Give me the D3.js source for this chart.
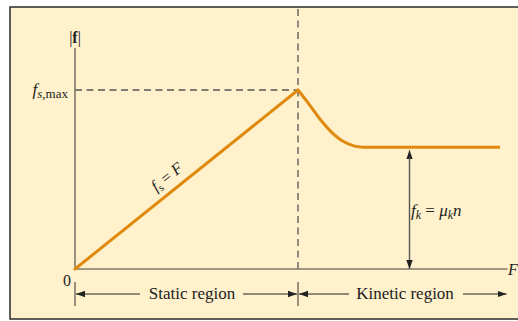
<!DOCTYPE html>
<html><head><meta charset="utf-8">
<script src="https://cdn.jsdelivr.net/npm/d3@7"></script>
<style>
html,body{margin:0;padding:0;background:#fff;}
svg{display:block;}
text{font-family:"Liberation Serif","Times New Roman",serif;fill:#222;}
</style></head>
<body>
<svg id="c" width="518" height="321"></svg>
<script>
// ---- data ----
const staticF = [0, 1];          // applied force (in units of F at f_s,max)
const staticFriction = [0, 1];   // friction magnitude (units of f_s,max)
const kineticF = [1, 1.05, 1.10, 1.15, 1.20, 1.25, 1.30];
const kineticFriction = [1, 0.92, 0.835, 0.765, 0.715, 0.688, 0.68];
const plateauF = [1.30, 1.906];
const plateauFriction = [0.68, 0.68];
const regionLabels = ["Static region", "Kinetic region"];
const fkAt = 1.5;                // where the f_k bracket arrow is drawn
const xAxisMax = 1.94, yAxisMax = 1.235;

const svg = d3.select("#c");
const x = d3.scaleLinear().domain([0, 1]).range([75, 298]);
const y = d3.scaleLinear().domain([0, 1]).range([269, 90]);

const orange = "#df8a0e", axisCol = "#81786b";

// frame
svg.append("rect").attr("x", 10).attr("y", 7).attr("width", 520).attr("height", 312)
  .attr("fill", "#fef1cb").attr("stroke", "#2a2a2a").attr("stroke-width", 1.5);

// markers
const defs = svg.append("defs");
const m = defs.append("marker").attr("id", "ah").attr("viewBox", "0 -5 10 10")
  .attr("refX", 10).attr("refY", 0).attr("markerWidth", 9).attr("markerHeight", 9)
  .attr("markerUnits", "userSpaceOnUse").attr("orient", "auto");
m.append("path").attr("d", "M0,-3.6L10,0L0,3.6Z").attr("fill", "#222");

// dashed guides
svg.append("line").attr("x1", x(0)).attr("x2", x(1)).attr("y1", y(1)).attr("y2", y(1))
  .attr("stroke", "#555").attr("stroke-width", 1.3).attr("stroke-dasharray", "7,4.5");
svg.append("line").attr("x1", x(1)).attr("x2", x(1)).attr("y1", 9).attr("y2", y(0))
  .attr("stroke", "#555").attr("stroke-width", 1.3).attr("stroke-dasharray", "7,4.5");

// axes
svg.append("line").attr("x1", x(0)).attr("x2", x(0)).attr("y1", y(yAxisMax)).attr("y2", y(0))
  .attr("stroke", axisCol).attr("stroke-width", 1.6);
svg.append("line").attr("x1", x(0)).attr("x2", x(xAxisMax)).attr("y1", y(0)).attr("y2", y(0))
  .attr("stroke", axisCol).attr("stroke-width", 1.6);

// curves
const line = d3.line().x(d => x(d[0])).y(d => y(d[1]));
const pts = d3.zip(staticF, staticFriction);
svg.append("path").attr("d", line(pts))
  .attr("fill", "none").attr("stroke", orange).attr("stroke-width", 3).attr("stroke-linecap", "round");
svg.append("path").attr("d", d3.line().x(d => x(d[0])).y(d => y(d[1])).curve(d3.curveCatmullRom.alpha(0.5))(d3.zip(kineticF, kineticFriction)))
  .attr("fill", "none").attr("stroke", orange).attr("stroke-width", 3).attr("stroke-linejoin", "round").attr("stroke-linecap", "round");
svg.append("path").attr("d", line(d3.zip(plateauF, plateauFriction)))
  .attr("fill", "none").attr("stroke", orange).attr("stroke-width", 3);

// f_k double arrow
const fkY = plateauFriction[0];
svg.append("line").attr("x1", x(fkAt)).attr("x2", x(fkAt)).attr("y1", y(0) - 1).attr("y2", y(fkY) + 3)
  .attr("stroke", "#555").attr("stroke-width", 1.2).attr("marker-end", "url(#ah)");
svg.append("line").attr("x1", x(fkAt)).attr("x2", x(fkAt)).attr("y1", y(fkY) + 10).attr("y2", y(0))
  .attr("stroke", "#555").attr("stroke-width", 1.2).attr("marker-end", "url(#ah)");

// labels
const t1 = svg.append("text").attr("x", 75).attr("y", 43).attr("text-anchor", "middle").attr("font-size", 16);
t1.append("tspan").text("|");
t1.append("tspan").attr("font-weight", "bold").text("f");
t1.append("tspan").text("|");

const t2 = svg.append("text").attr("x", 68).attr("y", 95).attr("text-anchor", "end").attr("font-size", 17);
t2.append("tspan").attr("font-style", "italic").text("f");
t2.append("tspan").attr("font-style", "italic").attr("font-size", 13).attr("dy", 3).text("s");
t2.append("tspan").attr("font-size", 13).text(",max");

svg.append("text").attr("x", 67).attr("y", 286).attr("text-anchor", "middle").attr("font-size", 16).text("0");
svg.append("text").attr("x", 508).attr("y", 275).attr("font-size", 16).attr("font-style", "italic").text("F");

// rotated f_s = F
const ang = Math.atan2(y(1) - y(0), x(1) - x(0)) * 180 / Math.PI;
const t3 = svg.append("text").attr("transform", `translate(170,181) rotate(${ang})`)
  .attr("text-anchor", "middle").attr("font-size", 16);
t3.append("tspan").attr("font-style", "italic").text("f");
t3.append("tspan").attr("font-size", 11).attr("dy", 3).text("s");
t3.append("tspan").attr("dy", -3).text(" = ");
t3.append("tspan").attr("font-style", "italic").text("F");

const t4 = svg.append("text").attr("x", 411).attr("y", 216).attr("font-size", 17);
t4.append("tspan").attr("font-style", "italic").text("f");
t4.append("tspan").attr("font-style", "italic").attr("font-size", 12).attr("dy", 3).text("k");
t4.append("tspan").attr("dy", -3).text(" =  ");
t4.append("tspan").attr("font-style", "italic").text("μ");
t4.append("tspan").attr("font-style", "italic").attr("font-size", 12).attr("dy", 3).text("k");
t4.append("tspan").attr("font-style", "italic").attr("dy", -3).text("n");

// region arrows
const ry = 294;
[x(0), x(1)].forEach(px => {
  svg.append("line").attr("x1", px).attr("x2", px).attr("y1", 282).attr("y2", 306)
    .attr("stroke", axisCol).attr("stroke-width", 1.6);
});
const regions = [
  {label: regionLabels[0], a: x(0), b: x(1), tx: 192, g1: 140, g2: 243},
  {label: regionLabels[1], a: x(1), b: x(xAxisMax), tx: 405, g1: 349, g2: 463}
];
regions.forEach(r => {
  svg.append("line").attr("x1", r.g1).attr("x2", r.a + 1).attr("y1", ry).attr("y2", ry)
    .attr("stroke", "#222").attr("stroke-width", 1).attr("marker-end", "url(#ah)");
  svg.append("line").attr("x1", r.g2).attr("x2", r.b - 1).attr("y1", ry).attr("y2", ry)
    .attr("stroke", "#222").attr("stroke-width", 1).attr("marker-end", "url(#ah)");
  svg.append("text").attr("x", r.tx).attr("y", 299).attr("text-anchor", "middle")
    .attr("font-size", 17).text(r.label);
});
</script>
</body></html>
